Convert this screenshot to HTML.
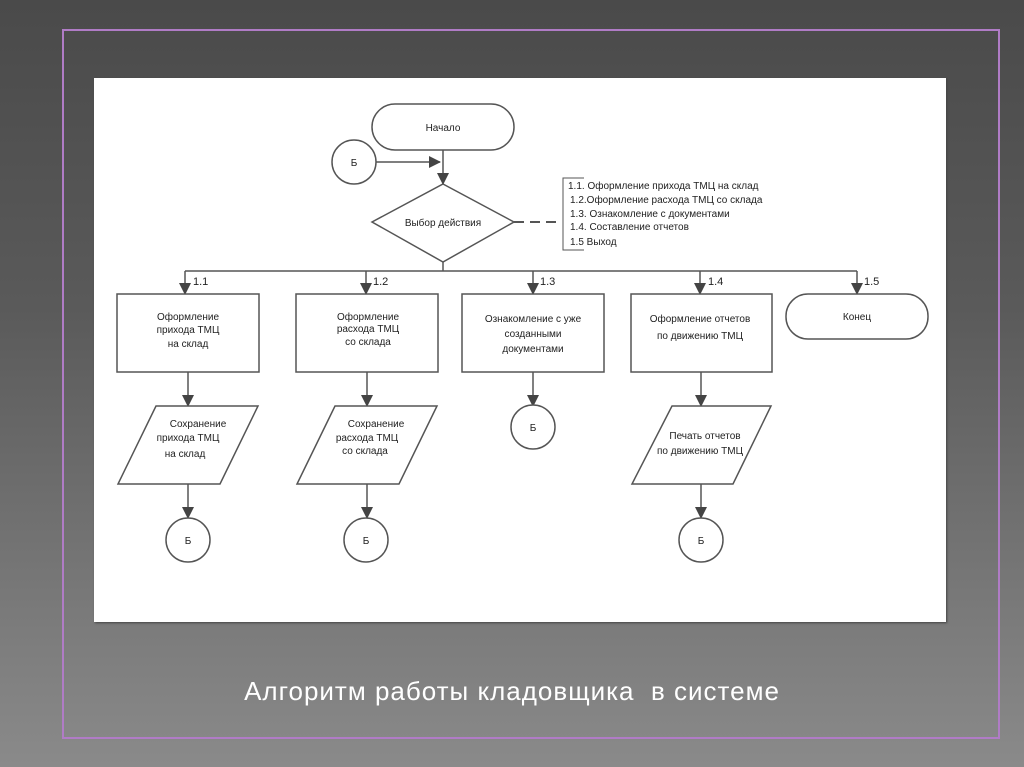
<!DOCTYPE html>
<html><head><meta charset="utf-8"><style>
html,body{margin:0;padding:0}
body{width:1024px;height:767px;overflow:hidden;background:linear-gradient(#4a4a4a 0%,#5a5a5a 40%,#8a8a8a 100%);position:relative;font-family:"Liberation Sans",sans-serif}
.frame{position:absolute;left:62px;top:29px;width:934px;height:706px;border:2px solid #b07cc6}
.white{position:absolute;left:94px;top:78px;width:852px;height:544px;background:#fff;box-shadow:1px 1px 2px #444}
.cap{position:absolute;left:0;width:1024px;top:676px;text-align:center;color:#fff;font-size:26px;letter-spacing:1px}
svg{position:absolute;left:0;top:0}
</style></head><body>
<div class="frame"></div>
<div class="white"></div>
<svg width="1024" height="767" font-family="Liberation Sans, sans-serif" font-size="10" fill="none" stroke="#555" stroke-width="1.5">
<defs><marker id="b" markerWidth="12" markerHeight="12" refX="11" refY="6" orient="auto" markerUnits="userSpaceOnUse"><path d="M0,0 L12,6 L0,12z" fill="#444" stroke="none"/></marker></defs>
<rect x="372" y="104" width="142" height="46" rx="23" fill="#fff"/>
<circle cx="354" cy="162" r="22" fill="#fff"/>
<line x1="376" y1="162" x2="440" y2="162" marker-end="url(#b)"/>
<line x1="443" y1="150" x2="443" y2="184" marker-end="url(#b)"/>
<polygon points="443,184 514,222 443,262 372,222" fill="#fff"/>
<line x1="514" y1="222" x2="562" y2="222" stroke-dasharray="10,6" stroke-width="2"/>
<path d="M584,178 H563 V250 H584" stroke-width="1"/>
<line x1="443" y1="262" x2="443" y2="271"/>
<line x1="185" y1="271" x2="857" y2="271"/>
<g marker-end="url(#b)">
<line x1="185" y1="271" x2="185" y2="294"/><line x1="366" y1="271" x2="366" y2="294"/>
<line x1="533" y1="271" x2="533" y2="294"/><line x1="700" y1="271" x2="700" y2="294"/>
<line x1="857" y1="271" x2="857" y2="294"/>
<line x1="188" y1="372" x2="188" y2="406"/><line x1="367" y1="372" x2="367" y2="406"/>
<line x1="533" y1="372" x2="533" y2="406"/><line x1="701" y1="372" x2="701" y2="406"/>
<line x1="188" y1="484" x2="188" y2="518"/><line x1="367" y1="484" x2="367" y2="518"/>
<line x1="701" y1="484" x2="701" y2="518"/>
</g>
<rect x="117" y="294" width="142" height="78" fill="#fff"/>
<rect x="296" y="294" width="142" height="78" fill="#fff"/>
<rect x="462" y="294" width="142" height="78" fill="#fff"/>
<rect x="631" y="294" width="141" height="78" fill="#fff"/>
<rect x="786" y="294" width="142" height="45" rx="22" fill="#fff"/>
<polygon points="156,406 258,406 220,484 118,484" fill="#fff"/>
<polygon points="335,406 437,406 399,484 297,484" fill="#fff"/>
<polygon points="672,406 771,406 733,484 632,484" fill="#fff"/>
<circle cx="188" cy="540" r="22" fill="#fff"/>
<circle cx="366" cy="540" r="22" fill="#fff"/>
<circle cx="533" cy="427" r="22" fill="#fff"/>
<circle cx="701" cy="540" r="22" fill="#fff"/>
<g fill="#222" stroke="none" text-anchor="middle">
<text x="443" y="131">Начало</text>
<text x="354" y="166">Б</text>
<text x="443" y="226">Выбор действия</text>
<text x="188" y="320">Оформление</text><text x="188" y="333">прихода ТМЦ</text><text x="188" y="347">на склад</text>
<text x="368" y="320">Оформление</text><text x="368" y="332">расхода ТМЦ</text><text x="368" y="345">со склада</text>
<text x="533" y="322">Ознакомление с уже</text><text x="533" y="337">созданными</text><text x="533" y="352">документами</text>
<text x="700" y="322">Оформление отчетов</text><text x="700" y="339">по движению ТМЦ</text>
<text x="857" y="320">Конец</text>
<text x="198" y="427">Сохранение</text><text x="188" y="441">прихода ТМЦ</text><text x="185" y="457">на склад</text>
<text x="376" y="427">Сохранение</text><text x="367" y="441">расхода ТМЦ</text><text x="365" y="454">со склада</text>
<text x="705" y="439">Печать отчетов</text><text x="700" y="454">по движению ТМЦ</text>
<text x="188" y="544">Б</text><text x="366" y="544">Б</text><text x="533" y="431">Б</text><text x="701" y="544">Б</text>
</g>
<g fill="#222" stroke="none" font-size="11">
<text x="193" y="285">1.1</text><text x="373" y="285">1.2</text><text x="540" y="285">1.3</text>
<text x="708" y="285">1.4</text><text x="864" y="285">1.5</text>
</g>
<g fill="#222" stroke="none" font-size="10">
<text x="568" y="189">1.1. Оформление прихода ТМЦ на склад</text>
<text x="570" y="203">1.2.Оформление расхода ТМЦ со склада</text>
<text x="570" y="217">1.3. Ознакомление с документами</text>
<text x="570" y="230">1.4. Составление отчетов</text>
<text x="570" y="245">1.5 Выход</text>
</g>
</svg>
<div class="cap">Алгоритм работы кладовщика&nbsp; в системе</div>
</body></html>
